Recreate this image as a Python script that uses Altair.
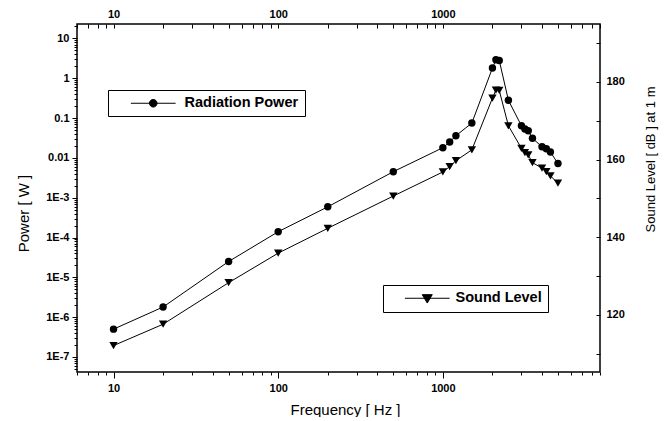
import altair as alt
import pandas as pd

# ---- data ----
freq = [10, 20, 50, 100, 200, 500, 1000, 1100, 1200, 1500, 2000, 2100, 2200,
        2500, 3000, 3150, 3300, 3500, 4000, 4250, 4500, 5000]
power_w = [5.0e-7, 1.8e-6, 2.5e-5, 1.4e-4, 5.9e-4, 4.5e-3, 0.018, 0.025, 0.036,
           0.075, 1.8, 2.9, 2.8, 0.28, 0.064, 0.053, 0.048, 0.031, 0.019,
           0.017, 0.014, 0.0072]
sound_db = [112.1, 117.6, 128.3, 135.9, 142.3, 150.6, 156.8, 158.2, 159.7,
            162.5, 175.8, 177.9, 177.8, 168.7, 162.9, 161.8, 161.2, 159.2,
            157.8, 156.9, 155.8, 153.9]

x_ticks = [6, 7, 8, 9] + [float(f"{m}e{e}") for e in (1, 2, 3) for m in range(1, 10)]
power_ticks = [v for v in (float(f"{m}e{e}") for e in range(-8, 2) for m in range(1, 10))
               if 4.2e-8 <= v <= 23]
db_ticks = list(range(110, 200, 10))

series_power = "Radiation Power"
series_sound = "Sound Level"

df = pd.DataFrame({"Frequency": freq, "Power": power_w, "Sound": sound_db})

FONT = "Liberation Sans"
DEC = "abs(log(datum.value)/LN10 - round(log(datum.value)/LN10)) < 0.001"

xscale = alt.Scale(type="log", domain=[6, 9000], nice=False)

common_axis = dict(domain=False, grid=False, labelFont=FONT, labelFontSize=11,
                   labelFontWeight="bold", labelColor="black", tickColor="black",
                   titleFont=FONT, titleColor="black", titleFontWeight="normal",
                   labelOverlap=False, tickWidth=1)

x_bottom = alt.X("Frequency:Q", scale=xscale, axis=alt.Axis(
    orient="bottom", values=x_ticks, labelExpr=f"{DEC} ? '' + datum.value : ''",
    tickSize={"condition": {"test": DEC, "value": 6}, "value": 3},
    labelPadding=4, title="Frequency [ Hz ]", titleFontSize=15,
    titleX=268, titleY=37, titleBaseline="middle", **common_axis))

x_top = alt.X("Frequency:Q", scale=xscale, axis=alt.Axis(
    orient="top", values=x_ticks, labelExpr=f"{DEC} ? '' + datum.value : ''",
    tickSize=4, offset=-4, labelPadding=5, title=None, **common_axis))

y_power = alt.Y("Power:Q", scale=alt.Scale(type="log", domain=[4.2e-8, 23], nice=False),
                axis=alt.Axis(
    orient="left", values=power_ticks,
    labelExpr=f"{DEC} ? (datum.value >= 0.01 ? '' + datum.value : '1E' + round(log(datum.value)/LN10)) : ''",
    tickSize={"condition": {"test": DEC, "value": 5}, "value": 3},
    labelPadding=3, title="Power [ W ]", titleFontSize=15, titleAngle=270,
    titleX=-54, titleY=189, titleBaseline="middle", **common_axis))

y_sound = alt.Y("Sound:Q", scale=alt.Scale(domain=[105.3, 194.9], nice=False, zero=False),
                axis=alt.Axis(
    orient="right", values=db_ticks,
    labelExpr="datum.value % 20 == 0 ? datum.label : ''",
    tickSize=4, offset=-4, labelPadding=6, title="Sound Level [ dB ] at 1 m",
    titleFontSize=13, titleAngle=270, titleX=54, titleY=135,
    titleBaseline="middle", **common_axis))

circle_path = "M-5.6,0H5.6M0.95,0A0.95,0.95,0,1,1,-0.95,0A0.95,0.95,0,1,1,0.95,0Z"
tri_path = "M-5.6,0H5.6M-1.25,-0.9L1.25,-0.9L0,1.2Z"


def make_legend(x, y, path, sym_off, lab_off, pad):
    return alt.Legend(orient="none", legendX=x, legendY=y, title=None,
                      strokeColor="black", fillColor="white", padding=pad,
                      symbolType=path, symbolSize=64, symbolStrokeColor="black",
                      symbolStrokeWidth=1, symbolFillColor="black",
                      symbolOffset=sym_off, labelOffset=lab_off, labelFont=FONT,
                      labelFontSize=14.5, labelFontWeight="bold", labelColor="black")


base = alt.Chart(df)

power_line = base.mark_line(color="black", strokeWidth=1).encode(x=x_bottom, y=y_power)
power_pts = base.mark_point(filled=True, shape="circle", size=55, opacity=1).encode(
    x=x_bottom, y=y_power,
    fill=alt.Fill("series:N", scale=alt.Scale(domain=[series_power], range=["black"]),
                  legend=make_legend(31, 66, circle_path, 32, 24, 6)),
).transform_calculate(series=f"'{series_power}'")

sound_line = base.mark_line(color="black", strokeWidth=1).encode(x=x_top, y=y_sound)
sound_pts = base.mark_point(filled=True, shape="triangle-down", size=70, opacity=1).encode(
    x=x_top, y=y_sound,
    fill=alt.Fill("series:N", scale=alt.Scale(domain=[series_sound], range=["black"]),
                  legend=make_legend(306, 261, tri_path, 31, 21, 6)),
).transform_calculate(series=f"'{series_sound}'")

chart = alt.layer(
    alt.layer(power_line, power_pts),
    alt.layer(sound_line, sound_pts),
).resolve_scale(
    y="independent", fill="independent"
).resolve_axis(
    x="independent"
).properties(
    width=523, height=348,
    padding={"left": 69, "top": 16, "right": 59, "bottom": 45},
    autosize=alt.AutoSizeParams(type="none"),
    background="white",
).configure_view(
    stroke="black", strokeWidth=1.5
).configure_legend(
    strokeWidth=1
)

chart.save("out.html", embed_options={"renderer": "svg", "actions": False})
